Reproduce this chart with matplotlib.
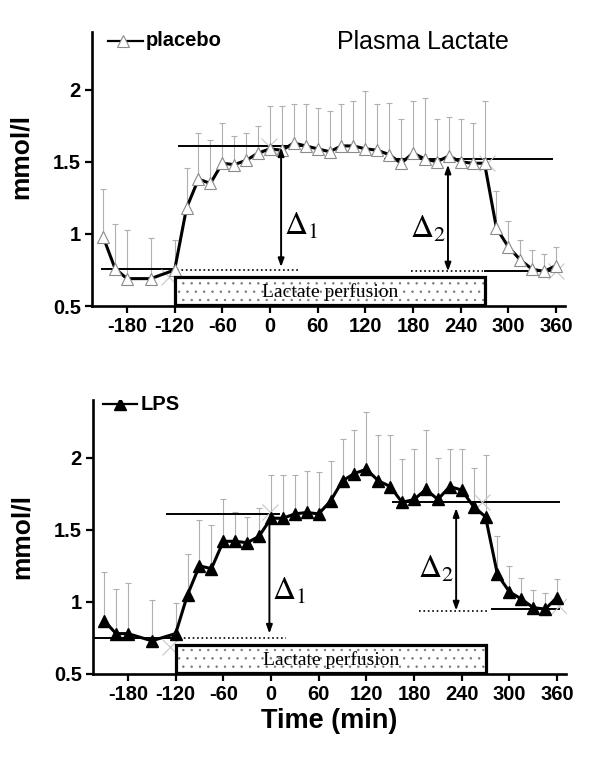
import numpy as np
import matplotlib
matplotlib.use("Agg")
import matplotlib.pyplot as plt
from matplotlib.patches import Rectangle

plt.rcParams["font.family"] = ["Liberation Sans", "DejaVu Sans"]
plt.rcParams["mathtext.fontset"] = "stix"
plt.rcParams["hatch.linewidth"] = 0.5

# sampling times (min)
times = [-210, -195, -180, -150, -120, -105, -90, -75, -60, -45, -30, -15, 0,
         15, 30, 45, 60, 75, 90, 105, 120, 135, 150, 165, 180, 195, 210, 225,
         240, 255, 270, 285, 300, 315, 330, 345, 360]

# placebo: mean and upper error bar end (mmol/l)
placebo_mean = [0.98, 0.76, 0.69, 0.69, 0.75, 1.18, 1.38, 1.35, 1.49, 1.48,
                1.51, 1.56, 1.59, 1.58, 1.63, 1.61, 1.59, 1.57, 1.61, 1.61,
                1.59, 1.58, 1.55, 1.49, 1.56, 1.52, 1.50, 1.54, 1.50, 1.49,
                1.49, 1.04, 0.91, 0.82, 0.755, 0.74, 0.78]
placebo_top = [1.31, 1.07, 1.03, 0.97, 0.96, 1.46, 1.70, 1.65, 1.77, 1.68,
               1.70, 1.75, 1.89, 1.89, 1.90, 1.90, 1.87, 1.85, 1.90, 1.92,
               1.99, 1.90, 1.91, 1.80, 1.92, 1.94, 1.80, 1.81, 1.80, 1.77,
               1.92, 1.30, 1.09, 0.96, 0.89, 0.86, 0.91]

# LPS: mean and upper error bar end (mmol/l)
lps_mean = [0.87, 0.78, 0.78, 0.73, 0.78, 1.05, 1.25, 1.23, 1.42, 1.42,
            1.41, 1.455, 1.58, 1.58, 1.61, 1.62, 1.61, 1.70, 1.84, 1.89,
            1.92, 1.84, 1.80, 1.69, 1.71, 1.78, 1.71, 1.80, 1.775, 1.66,
            1.59, 1.19, 1.07, 1.02, 0.96, 0.95, 1.03]
lps_top = [1.21, 1.09, 1.13, 1.01, 0.99, 1.33, 1.57, 1.53, 1.71, 1.62,
           1.59, 1.65, 1.88, 1.88, 1.88, 1.91, 1.90, 1.98, 2.13, 2.19,
           2.32, 2.16, 2.16, 1.99, 2.06, 2.19, 2.00, 2.06, 2.06, 1.93,
           2.02, 1.455, 1.25, 1.165, 1.085, 1.06, 1.16]

# level lines: (start, end, level, style)
placebo_levels = [(-211, -120, 0.755, "-"), (-117, 37, 0.75, ":"),
                  (-114, 45, 1.61, "-"), (145, 355, 1.52, "-"),
                  (177, 268, 0.74, ":"), (271, 366, 0.745, "-")]
lps_levels = [(-224, -122, 0.752, "-"), (-121, 19, 0.752, ":"),
              (-131, 10, 1.61, "-"), (154, 362, 1.69, "-"),
              (186, 274, 0.94, ":"), (278, 362, 0.95, "-")]

# grey crosses
placebo_x_t = [-127, -1, 273, 360]
placebo_x_v = [0.70, 1.61, 1.49, 0.74]
lps_x_t = [-127, -1, 266, 362]
lps_x_v = [0.69, 1.62, 1.69, 0.97]

# delta arrows: (time, upper, lower, both heads)
placebo_arrows = [(14, 1.60, 0.77, True), (224, 1.48, 0.74, True)]
lps_arrows = [(-2, 1.58, 0.78, False), (233, 1.65, 0.94, True)]
placebo_delta_pos = [(39, 1.05), (199, 1.03)]
lps_delta_pos = [(23, 1.07), (208, 1.22)]

perfusion_start, perfusion_end = -120, 271
xticks = [-180, -120, -60, 0, 60, 120, 180, 240, 300, 360]
yticks = [0.5, 1, 1.5, 2]
ytick_labels = ["0.5", "1", "1.5", "2"]


def draw_panel(ax, mean, top, filled, levels, xt, xv, arrows, dpos,
               legend_label, legend_y, legend_t):
    t = np.array(times)
    mean = np.array(mean)
    top = np.array(top)

    # error bars (upper only)
    ax.errorbar(t, mean, yerr=[np.zeros_like(mean), top - mean], fmt="none",
                ecolor="#b0b0b0", elinewidth=0.8, capsize=2.5, capthick=0.8,
                zorder=1)

    for x0, x1, lev, ls in levels:
        ax.plot([x0, x1], [lev, lev], color="black",
                lw=1.4 if ls == "-" else 1.2, ls=ls, zorder=2)

    ax.plot(xt, xv, ls="none", marker="x", ms=11, mew=0.8,
            color="#c8c8c8", zorder=2)

    if filled:
        mk = dict(marker="^", ms=8.5, mfc="black", mec="black")
    else:
        mk = dict(marker="^", ms=9, mfc="white", mec="#8a8a8a", mew=0.8)
    ax.plot(t, mean, color="black", lw=2.2, zorder=3, **mk)

    # perfusion box: dotted fill, then black frame
    width = perfusion_end - perfusion_start
    ax.add_patch(Rectangle((perfusion_start, 0.51), width, 0.19,
                           facecolor="white", edgecolor="#777777", lw=0,
                           hatch="..", zorder=4))
    ax.add_patch(Rectangle((perfusion_start, 0.51), width, 0.19,
                           facecolor="none", edgecolor="black", lw=2.3,
                           zorder=4))
    ax.text((perfusion_start + perfusion_end) / 2, 0.598, "Lactate perfusion",
            family="Liberation Serif", fontsize=14, ha="center", va="center",
            zorder=5)

    for xa, y_up, y_lo, both in arrows:
        style = "<|-|>" if both else "-|>"
        ax.annotate("", xy=(xa, y_lo), xytext=(xa, y_up),
                    arrowprops=dict(arrowstyle=style + ",head_length=0.5,head_width=0.18",
                                    color="black", lw=1.4, shrinkA=0, shrinkB=0),
                    zorder=5)

    for i, (xd, yd) in enumerate(dpos):
        ax.text(xd, yd, r"$\Delta_{%d}$" % (i + 1), fontsize=23,
                ha="center", va="center")

    # legend
    lx0, lx1, lxm, ltxt = legend_t
    ax.plot([lx0, lx1], [legend_y, legend_y], color="black", lw=1.6)
    ax.plot([lxm], [legend_y], **mk)
    ax.text(ltxt, legend_y, legend_label, fontsize=14.5, fontweight="bold",
            ha="left", va="center")

    ax.set_xlim(-224, 371)
    ax.set_ylim(0.5, 2.4)
    ax.set_xticks(xticks)
    ax.set_xticklabels([str(v) for v in xticks])
    ax.set_yticks(yticks)
    ax.set_yticklabels(ytick_labels)
    for lab in ax.get_xticklabels() + ax.get_yticklabels():
        lab.set_fontweight("bold")
        lab.set_fontsize(14.5)
    ax.tick_params(direction="out", length=5, width=1.6, pad=3)
    for side in ["top", "right"]:
        ax.spines[side].set_visible(False)
    for side in ["left", "bottom"]:
        ax.spines[side].set_linewidth(1.9)
    ax.set_ylabel("mmol/l", fontsize=19, fontweight="bold")


fig = plt.figure(figsize=(6, 7.62), dpi=100)
ax1 = fig.add_axes([0.1533, 0.5984, 0.788, 0.3596])
ax2 = fig.add_axes([0.1550, 0.1155, 0.788, 0.3596])

draw_panel(ax1, placebo_mean, placebo_top, False, placebo_levels,
           placebo_x_t, placebo_x_v, placebo_arrows, placebo_delta_pos,
           "placebo", 2.34, (-204, -160, -185, -156))
ax1.yaxis.set_label_coords(-0.125, 0.544)
ax1.text(192, 2.33, "Plasma Lactate", fontsize=18, ha="center", va="center")

draw_panel(ax2, lps_mean, lps_top, True, lps_levels,
           lps_x_t, lps_x_v, lps_arrows, lps_delta_pos,
           "LPS", 2.37, (-212, -168, -190, -164))
ax2.yaxis.set_label_coords(-0.125, 0.5)
ax2.set_xlabel("Time (min)", fontsize=19.5, fontweight="bold", labelpad=3)

fig.savefig("out.png", dpi=100)
